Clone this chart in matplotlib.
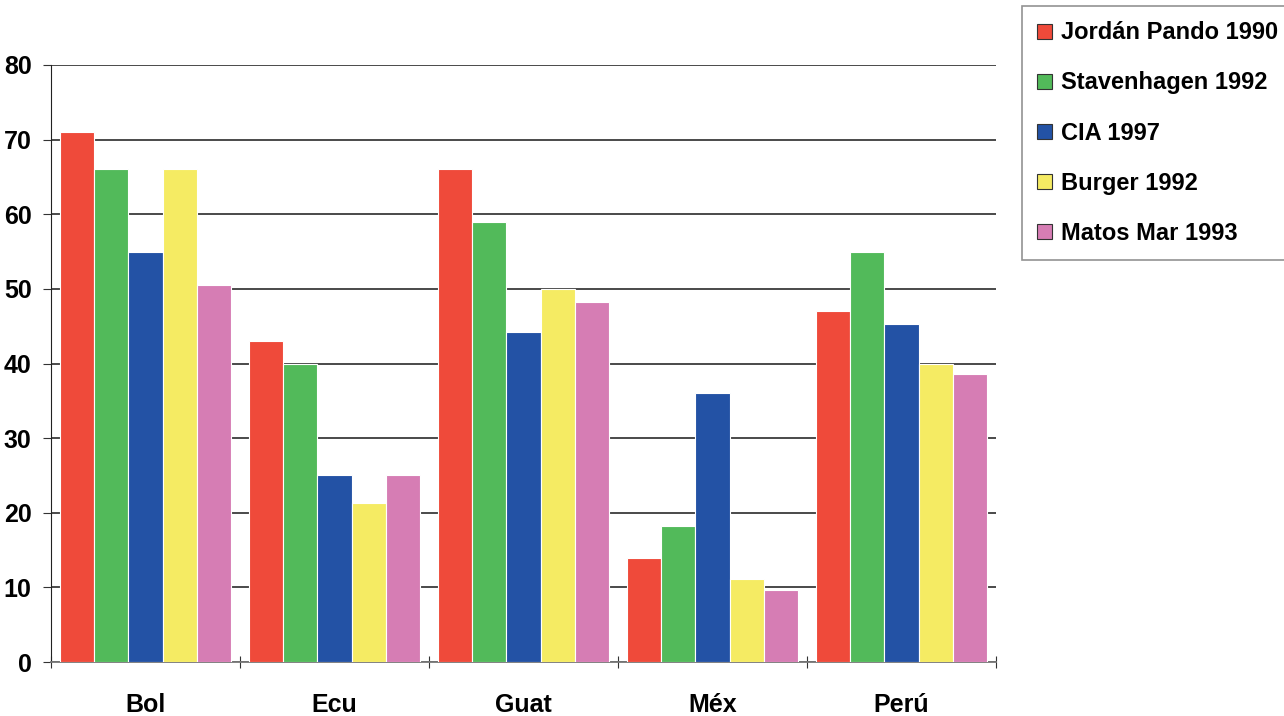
import matplotlib.pyplot as plt
import numpy as np

plt.rcParams['font.family'] = ['Liberation Sans', 'DejaVu Sans']
plt.rcParams['font.weight'] = 'bold'

countries = ['Bol', 'Ecu', 'Guat', 'Méx', 'Perú']
series = ['Jordán Pando 1990', 'Stavenhagen 1992', 'CIA 1997', 'Burger 1992', 'Matos Mar 1993']
jordan = [71, 43, 66, 14, 47]
stavenhagen = [66, 40, 59, 18.2, 55]
cia = [55, 25, 44.2, 36, 45.3]
burger = [66, 21.3, 50, 11.1, 40]
matos = [50.5, 25, 48.3, 9.6, 38.6]
colors = ['#EF4A3A', '#52BA5A', '#2352A5', '#F5EB63', '#D67DB4']

values = [jordan, stavenhagen, cia, burger, matos]

fig = plt.figure(figsize=(12.84, 7.16), dpi=100)
ax = fig.add_axes([51/1284, 54/716, 945/1284, 597/716])

x = np.arange(len(countries))
w = 0.905 / 5
for i, (vals, name, col) in enumerate(zip(values, series, colors)):
    ax.bar(x - 0.905/2 + w*(i + 0.5), vals, w, color=col, edgecolor='white',
           linewidth=0.8, label=name, zorder=3)

ax.set_xlim(-0.5, 4.5)
ax.set_ylim(0, 80)
ax.set_yticks(range(0, 81, 10))
ax.yaxis.grid(True, color='#3c3c3c', linewidth=1.3, zorder=0)
ax.set_axisbelow(True)

ax.set_xticks(np.arange(-0.5, 5, 1))
ax.set_xticklabels([])
ax.set_xticks(x, minor=True)
ax.set_xticklabels(countries, minor=True, fontsize=18, fontweight='bold')
ax.tick_params(axis='x', which='major', length=8, direction='inout', color='#333')
ax.tick_params(axis='x', which='minor', length=0, pad=22)
ax.tick_params(axis='y', length=6, color='#333', labelsize=18, pad=8)

for s in ['top', 'right']:
    ax.spines[s].set_visible(False)
ax.spines['left'].set_color('#222')
ax.spines['bottom'].set_color('#777')
ax.spines['bottom'].set_linewidth(1.3)

leg = fig.legend(loc='upper left', bbox_to_anchor=(1022/1284, 1.0 - 6/716), fontsize=17,
                 frameon=True, fancybox=False, handlelength=0.6, handleheight=0.6,
                 handletextpad=0.4, labelspacing=1.15, borderpad=0.65, borderaxespad=0)
leg.get_frame().set_edgecolor('#777')
leg.get_frame().set_linewidth(1.2)
for h in leg.legend_handles:
    h.set_edgecolor('#333')
    h.set_linewidth(0.8)

fig.savefig('out.png', dpi=100)
